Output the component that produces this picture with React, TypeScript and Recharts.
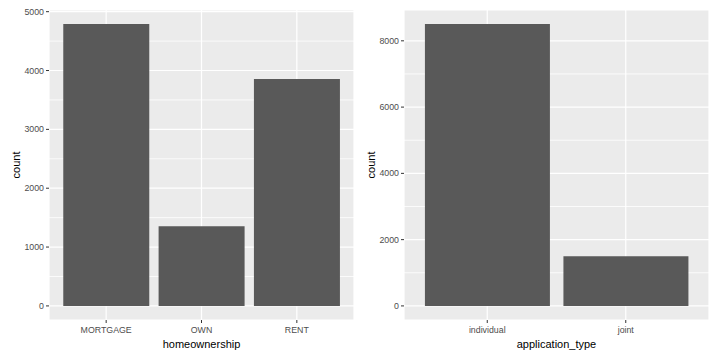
import { BarChart, Bar, XAxis, YAxis, CartesianGrid, ReferenceLine } from 'recharts'

// homeownership panel
const homeCategories = ['MORTGAGE', 'OWN', 'RENT']
const homeCounts = [4789, 1353, 3858]
const homeTicks = [0, 1000, 2000, 3000, 4000, 5000]
const homeMinorTicks = [500, 1500, 2500, 3500, 4500]

// application_type panel
const appCategories = ['individual', 'joint']
const appCounts = [8505, 1495]
const appTicks = [0, 2000, 4000, 6000, 8000]
const appMinorTicks = [1000, 3000, 5000, 7000]

const FONT = '"Liberation Sans", Arial, sans-serif'

// ggplot style 5% expansion on the count axis
const expand = (vals: number[]): [number, number] => {
  const max = Math.max(0, ...vals)
  const pad = max * 0.05
  return [-pad, max + pad]
}

const NoTick = () => <g />

interface PanelProps {
  categories: string[]
  counts: number[]
  ticks: number[]
  minorTicks: number[]
  xTitle: string
  yAxisWidth: number
  marginRight: number
  xPad: number
  titleX: number
}

function Panel({ categories, counts, ticks, minorTicks, xTitle, yAxisWidth, marginRight, xPad, titleX }: PanelProps) {
  const data = categories.map((c, i) => ({ name: c, count: counts[i] }))
  const domain = expand(counts)
  const common = {
    width: 360,
    height: 360,
    data,
    margin: { top: 10, right: marginRight, bottom: 0, left: 0 },
    barCategoryGap: '5%',
    style: { fontFamily: FONT },
  }

  return (
    <div style={{ position: 'relative', width: 360, height: 360 }}>
      {/* back layer: panel background, major and minor grid lines */}
      <div style={{ position: 'absolute', top: 0, left: 0 }}>
        <BarChart {...common}>
          <CartesianGrid fill="#EBEBEB" stroke="#FFFFFF" strokeWidth={1.2} />
          {minorTicks.map((v) => (
            <ReferenceLine key={v} y={v} stroke="#FFFFFF" strokeWidth={0.8} />
          ))}
          <XAxis dataKey="name" height={40} axisLine={false} tick={NoTick} tickLine={false} padding={{ left: xPad, right: xPad }} />
          <YAxis width={yAxisWidth} type="number" domain={domain} ticks={ticks} allowDataOverflow axisLine={false} tick={NoTick} tickLine={false} />
        </BarChart>
      </div>
      {/* front layer: bars, ticks and titles */}
      <div style={{ position: 'absolute', top: 0, left: 0 }}>
        <BarChart {...common}>
          <XAxis
            dataKey="name"
            height={40}
            axisLine={false}
            tickSize={3}
            tickMargin={4}
            tickLine={{ stroke: '#333333' }}
            tick={{ fill: '#4D4D4D', fontSize: 8.8 }}
            padding={{ left: xPad, right: xPad }}
            label={{
              content: ({ viewBox }: any) => (
                <text x={viewBox.x + viewBox.width / 2} y={348} textAnchor="middle" fontSize={11} fill="#000000">
                  {xTitle}
                </text>
              ),
            }}
          />
          <YAxis
            width={yAxisWidth}
            type="number"
            domain={domain}
            ticks={ticks}
            allowDataOverflow
            axisLine={false}
            tickSize={3}
            tickLine={{ stroke: '#333333' }}
            tick={{ fill: '#4D4D4D', fontSize: 8.8 }}
            label={{
              content: ({ viewBox }: any) => {
                const cx = titleX
                const cy = viewBox.y + viewBox.height / 2
                return (
                  <text
                    x={cx}
                    y={cy}
                    transform={`rotate(-90, ${cx}, ${cy})`}
                    textAnchor="middle"
                    fontSize={11}
                    fill="#000000"
                  >
                    count
                  </text>
                )
              },
            }}
          />
          <Bar dataKey="count" fill="#595959" isAnimationActive={false} />
        </BarChart>
      </div>
    </div>
  )
}

export default function App() {
  return (
    <div style={{ position: 'fixed', top: 0, left: 0, width: 720, height: 360, background: '#FFFFFF', display: 'flex' }}>
      <Panel
        categories={homeCategories}
        counts={homeCounts}
        ticks={homeTicks}
        minorTicks={homeMinorTicks}
        xTitle="homeownership"
        yAxisWidth={49}
        marginRight={6}
        xPad={9.5}
        titleX={20}
      />
      <Panel
        categories={appCategories}
        counts={appCounts}
        ticks={appTicks}
        minorTicks={appMinorTicks}
        xTitle="application_type"
        yAxisWidth={44}
        marginRight={11}
        xPad={14}
        titleX={15}
      />
    </div>
  )
}
